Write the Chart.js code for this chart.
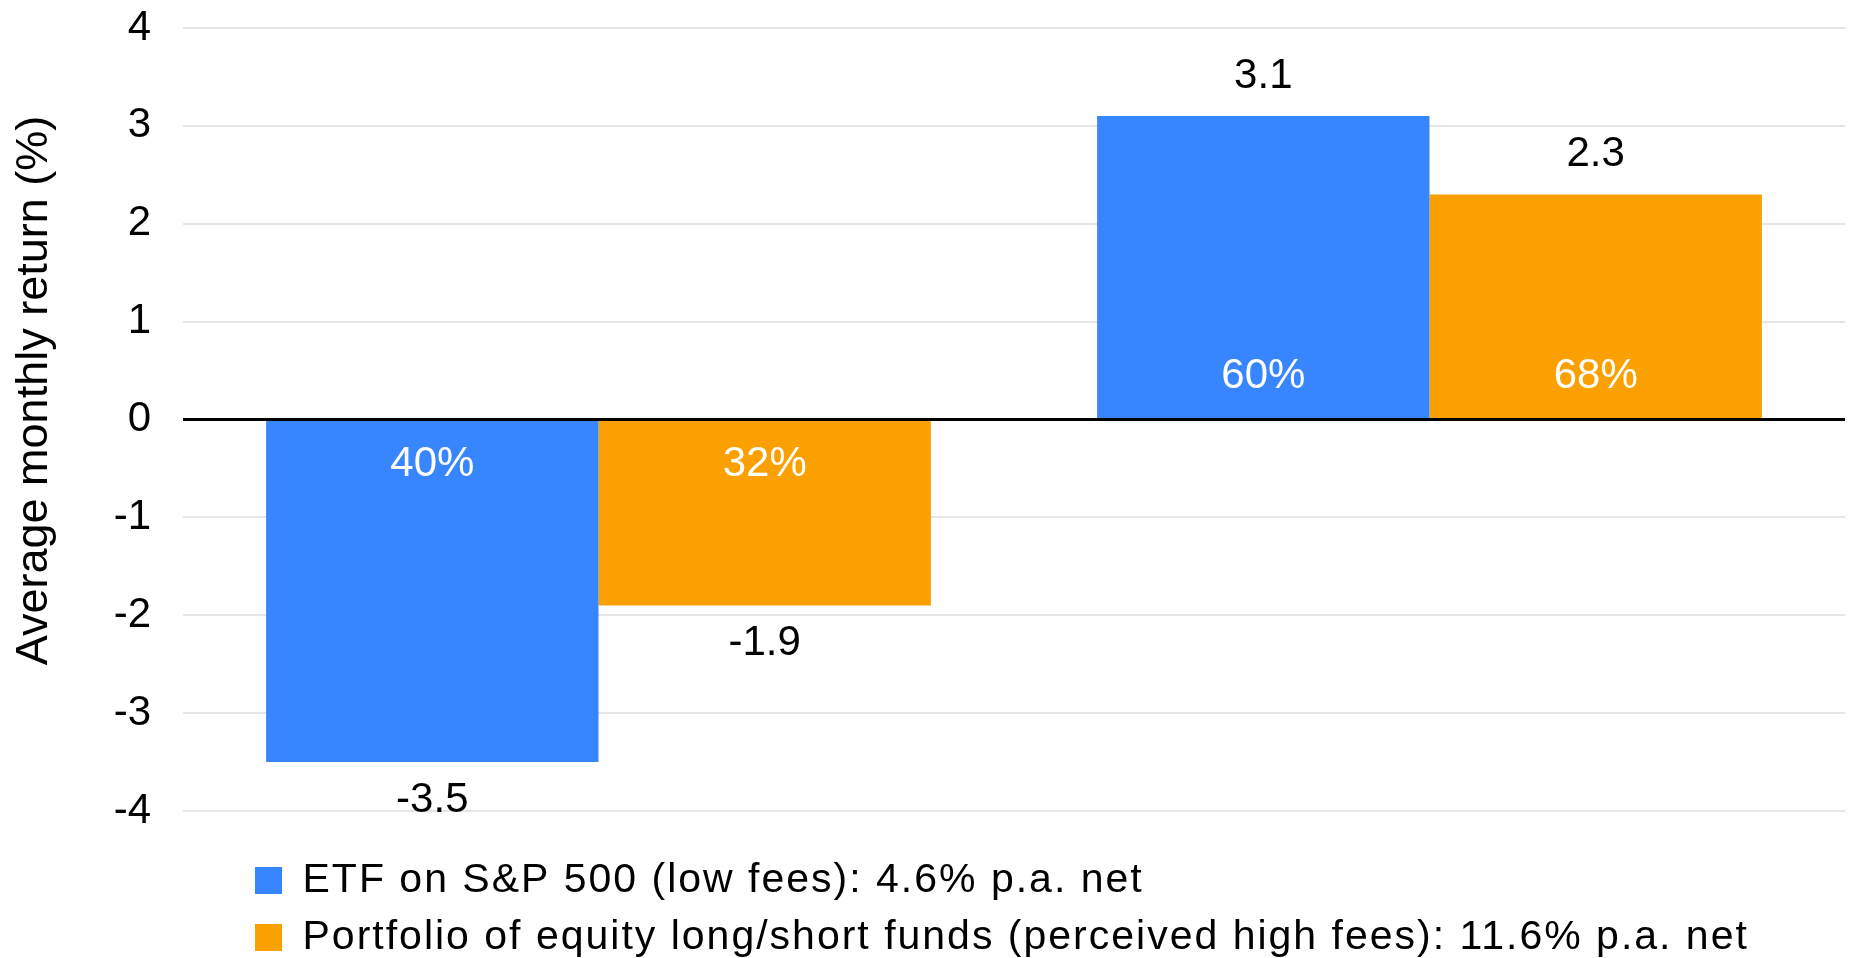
<!DOCTYPE html>
<html>
<head>
<meta charset="utf-8">
<title>Average monthly return</title>
<script src="https://cdn.jsdelivr.net/npm/chart.js@4/dist/chart.umd.min.js"></script>
<style>
  html, body { margin: 0; padding: 0; background: #fff; }
  #wrap { width: 1849px; height: 958px; }
</style>
</head>
<body>
<div id="wrap"><canvas id="chart" width="1849" height="958"></canvas></div>
<script>
// Months split by sign of the S&P 500 return
const categories = ['Negative months', 'Positive months'];

// Average monthly return (%) for each strategy
const etfReturns = [-3.5, 3.1];
const longShortReturns = [-1.9, 2.3];

// Share of months falling in each bucket (%)
const etfShares = [40, 60];
const longShortShares = [32, 68];

const seriesNames = [
  'ETF on S&P 500 (low fees): 4.6% p.a. net',
  'Portfolio of equity long/short funds (perceived high fees): 11.6% p.a. net'
];

const yAxisTitle = 'Average monthly return (%)';
const yTicks = { min: -4, max: 4, step: 1 };

const BLUE = '#3886FF';
const ORANGE = '#FAA000';
const FONT = "'Liberation Sans', Arial, sans-serif";

// Value labels beyond the bar end, share labels inside near the base,
// then the zero line on top of the bars.
const barLabels = {
  id: 'barLabels',
  afterDatasetsDraw(chart) {
    const ctx = chart.ctx;
    ctx.save();
    ctx.textAlign = 'center';
    ctx.textBaseline = 'middle';
    chart.data.datasets.forEach((ds, di) => {
      const meta = chart.getDatasetMeta(di);
      meta.data.forEach((bar, i) => {
        const v = ds.data[i];
        const p = bar.getProps(['x', 'y', 'base'], true);
        ctx.font = '42px ' + FONT;
        ctx.fillStyle = '#000';
        ctx.fillText(v.toFixed(1), p.x, v >= 0 ? p.y - 40 : p.y + 38);
        ctx.fillStyle = '#fff';
        ctx.fillText(ds.shares[i] + '%', p.x, v >= 0 ? p.base - 42 : p.base + 44);
      });
    });
    const yScale = chart.scales.y;
    const area = chart.chartArea;
    const y0 = yScale.getPixelForValue(0);
    ctx.strokeStyle = '#000';
    ctx.lineWidth = 3;
    ctx.beginPath();
    ctx.moveTo(area.left, y0);
    ctx.lineTo(area.right, y0);
    ctx.stroke();
    ctx.restore();
  }
};

// Rotated value-axis title, set a little above the axis midpoint
const axisTitle = {
  id: 'axisTitle',
  afterDraw(chart) {
    const ctx = chart.ctx;
    const s = chart.scales.y;
    ctx.save();
    ctx.translate(35, (s.top + s.bottom) / 2 - 29);
    ctx.rotate(-Math.PI / 2);
    ctx.textAlign = 'center';
    ctx.textBaseline = 'middle';
    ctx.fillStyle = '#000';
    ctx.font = '45px ' + FONT;
    ctx.fillText(yAxisTitle, 0, 0);
    ctx.restore();
  }
};

// Legend sits under the plot, indented to line up with the first bar group,
// with slightly tracked-out lettering.
const legendPlacement = {
  id: 'legendPlacement',
  afterLayout(chart) {
    const lg = chart.legend;
    if (!lg) return;
    lg.left = 239;
    lg.top += 33;
    lg.bottom += 33;
    if (!lg._tracked) {
      const baseDraw = lg.draw;
      lg.draw = function () {
        const c = this.ctx;
        c.save();
        c.letterSpacing = '2px';
        baseDraw.call(this);
        c.restore();
      };
      lg._tracked = true;
    }
  }
};

new Chart(document.getElementById('chart'), {
  type: 'bar',
  data: {
    labels: categories,
    datasets: [
      { label: seriesNames[0], data: etfReturns, shares: etfShares, backgroundColor: BLUE },
      { label: seriesNames[1], data: longShortReturns, shares: longShortShares, backgroundColor: ORANGE }
    ]
  },
  options: {
    responsive: false,
    animation: false,
    devicePixelRatio: 1,
    categoryPercentage: 0.8,
    barPercentage: 1.0,
    layout: { padding: { top: 28, right: 4, bottom: 23, left: 0 } },
    plugins: {
      tooltip: { enabled: false },
      legend: {
        position: 'bottom',
        align: 'start',
        labels: {
          boxWidth: 27,
          boxHeight: 27,
          padding: 16,
          color: '#000',
          font: { family: FONT, size: 41 }
        }
      }
    },
    scales: {
      x: { display: false },
      y: {
        min: yTicks.min,
        max: yTicks.max,
        afterFit(scale) {
          scale.width = 183;
          scale.paddingTop = 0;
          scale.paddingBottom = 0;
        },
        border: { display: false },
        grid: {
          drawTicks: false,
          color: ctx => ctx.tick && ctx.tick.value === 0 ? 'rgba(0,0,0,0)' : '#E5E5E5',
          lineWidth: 2
        },
        ticks: {
          stepSize: yTicks.step,
          padding: 32,
          color: '#000',
          font: { family: FONT, size: 42 }
        }
      }
    }
  },
  plugins: [barLabels, axisTitle, legendPlacement]
});
</script>
</body>
</html>
